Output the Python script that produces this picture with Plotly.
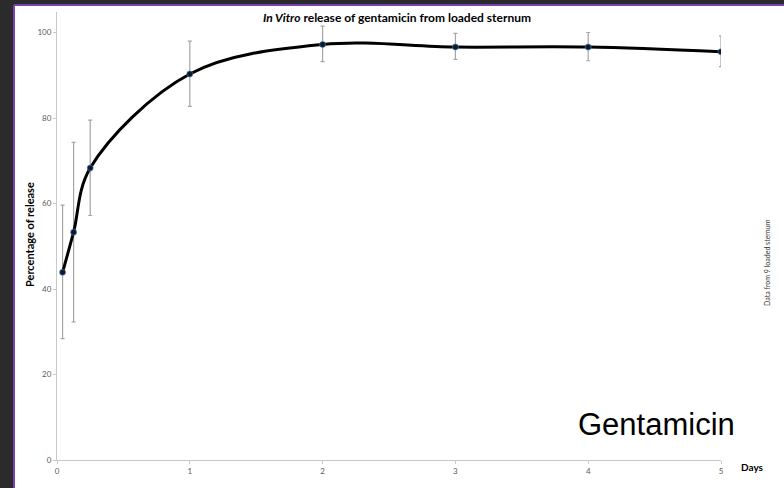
import plotly.graph_objects as go

days = [0.042, 0.125, 0.25, 1, 2, 3, 4, 5]
release = [43.9, 53.3, 68.3, 90.3, 97.2, 96.6, 96.6, 95.5]
err_upper = [59.6, 74.3, 79.5, 98.0, 101.5, 99.8, 100.0, 99.2]
err_lower = [28.4, 32.3, 57.2, 82.7, 93.2, 93.7, 93.4, 92.0]
x_ticks = [0, 1, 2, 3, 4, 5]
y_ticks = [0, 20, 40, 60, 80, 100]

plus = [u - v for u, v in zip(err_upper, release)]
minus = [v - l for v, l in zip(release, err_lower)]

L, R, T, B = 57, 63, 12, 28
W, H = 784, 488
pw, ph = W - L - R, H - T - B


def px(x):
    return (x - L) / pw


def py(y):
    return (H - B - y) / ph


fig = go.Figure()
fig.add_trace(go.Scatter(
    x=days, y=release, mode="lines+markers",
    line=dict(color="black", width=3, shape="spline", smoothing=1),
    marker=dict(color="#0b1a2c", size=6, line=dict(color="rgba(90,140,200,0.45)", width=1.2)),
    error_y=dict(type="data", symmetric=False, array=plus, arrayminus=minus,
                 color="#a6a6a6", thickness=1.2, width=2),
    showlegend=False, hoverinfo="x+y",
))

shapes = [
    dict(type="rect", xref="paper", yref="paper", x0=px(15), x1=px(W + 5), y0=py(6), y1=py(H + 5),
         fillcolor="white", line=dict(width=0), layer="below"),
    dict(type="line", xref="paper", yref="paper", x0=px(14), x1=px(14), y0=py(5), y1=py(H + 5),
         line=dict(color="#7b3fb5", width=2)),
    dict(type="line", xref="paper", yref="paper", x0=px(14), x1=px(W + 5), y0=py(5), y1=py(5),
         line=dict(color="#7b3fb5", width=2)),
]

annotations = [
    dict(text="<b><i>In Vitro</i> release of gentamicin from loaded sternum</b>",
         xref="paper", yref="paper", x=px(397), y=py(18), showarrow=False,
         font=dict(family="Lato, Liberation Sans", size=12, color="black"),
         xanchor="center", yanchor="middle"),
    dict(text="<b>Percentage of release</b>", xref="paper", yref="paper",
         x=px(30), y=py(235), showarrow=False, textangle=-90,
         font=dict(family="Lato, Liberation Sans", size=11, color="black"),
         xanchor="center", yanchor="middle"),
    dict(text="<b>Days</b>", xref="paper", yref="paper", x=px(752), y=py(467), showarrow=False,
         font=dict(family="Lato, Liberation Sans", size=10, color="black"),
         xanchor="center", yanchor="middle"),
    dict(text="Data from 9 loaded sternum", xref="paper", yref="paper",
         x=px(767), y=py(263), showarrow=False, textangle=-90,
         font=dict(family="Lato, Liberation Sans", size=7, color="#333333"),
         xanchor="center", yanchor="middle"),
    dict(text="Gentamicin", xref="paper", yref="paper", x=px(656), y=py(424), showarrow=False,
         font=dict(family="Liberation Sans, Arial", size=31, color="black"),
         xanchor="center", yanchor="middle"),
]

tickfont = dict(family="Lato, Liberation Sans", size=8, color="#595959")
fig.update_layout(
    width=W, height=H,
    margin=dict(l=L, r=R, t=T, b=B),
    paper_bgcolor="#2b2b2b", plot_bgcolor="white",
    shapes=shapes, annotations=annotations,
    xaxis=dict(range=[0, 5], tickvals=x_ticks, showgrid=False, zeroline=False,
               showline=True, linecolor="#c8c8c8", linewidth=1,
               ticks="outside", ticklen=3, tickcolor="#c8c8c8", tickfont=tickfont),
    yaxis=dict(range=[0, 104.8], tickvals=y_ticks, showgrid=False, zeroline=False,
               showline=True, linecolor="#c8c8c8", linewidth=1,
               ticks="outside", ticklen=3, tickcolor="#c8c8c8", tickfont=tickfont),
)

fig.write_html("out.html", config={"displayModeBar": False},
               post_script="document.body.style.margin='0';document.body.style.overflow='hidden';")
